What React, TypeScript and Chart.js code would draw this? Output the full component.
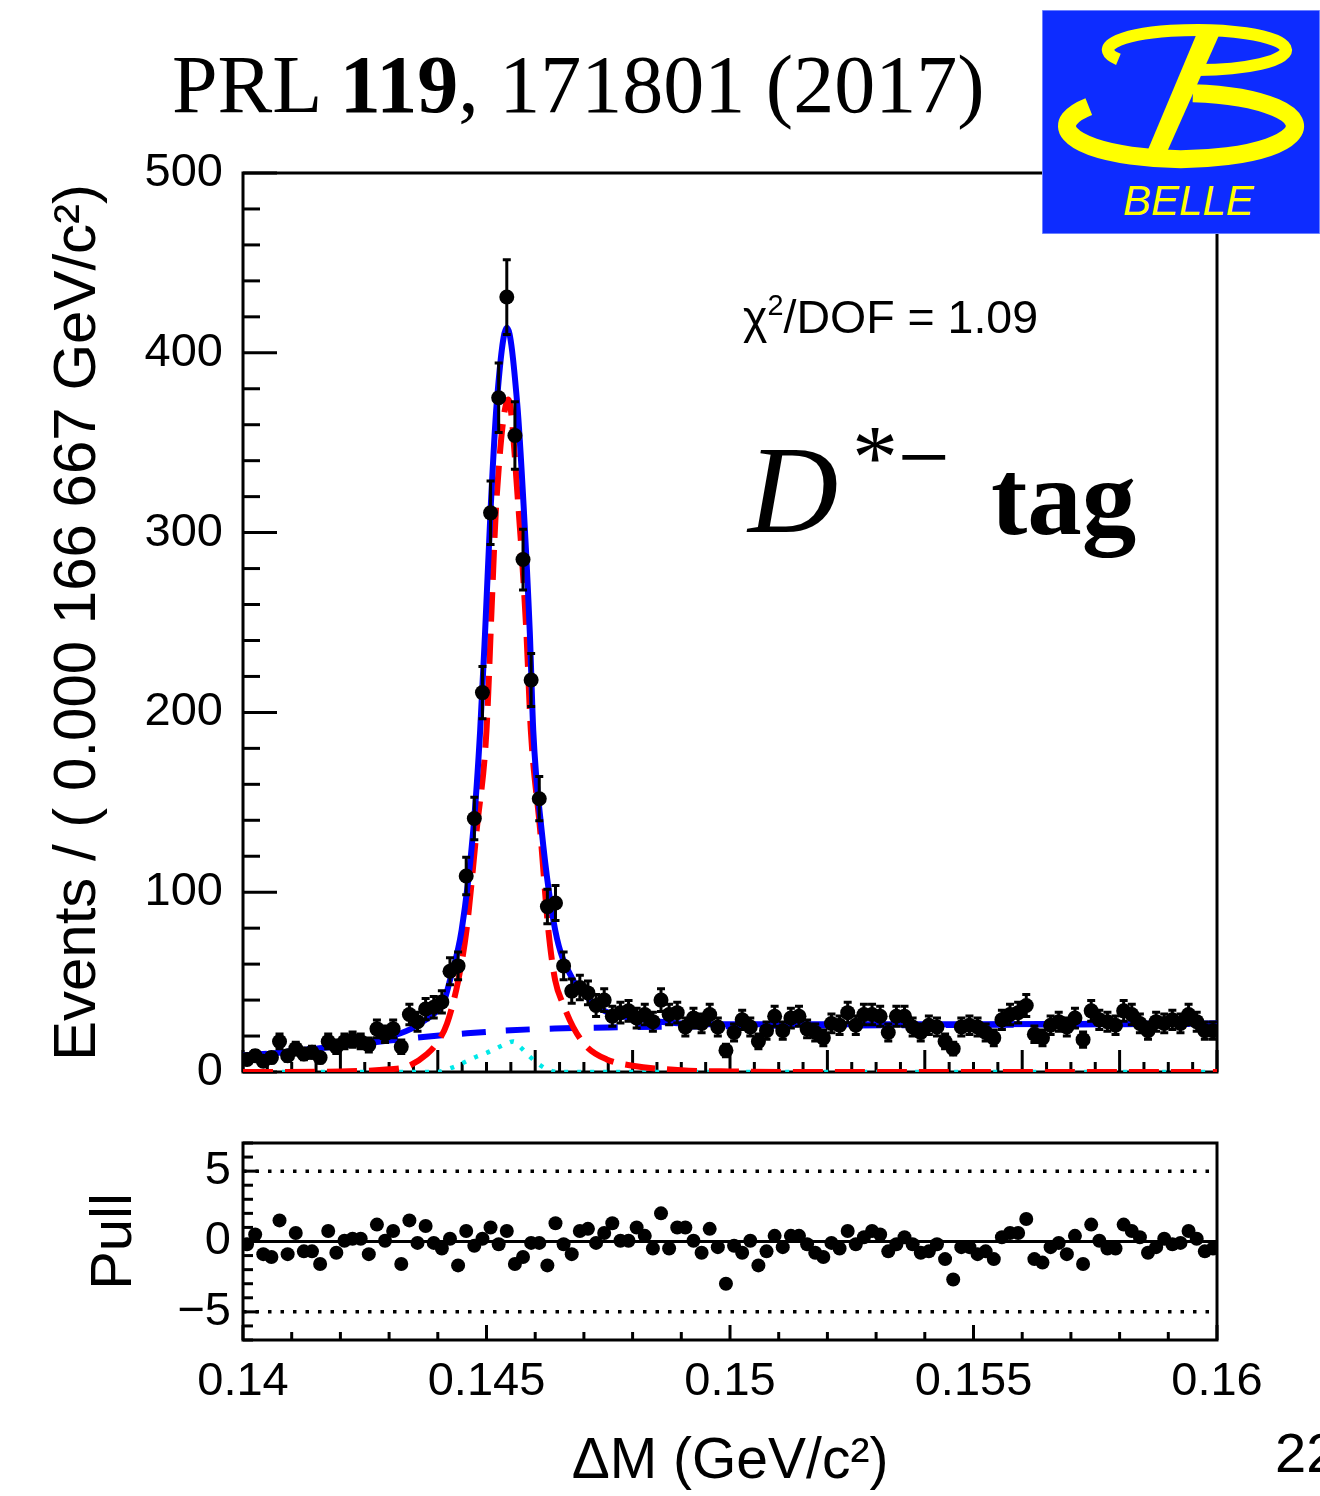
import React, { useEffect, useRef } from "react";
import { Chart, registerables } from "chart.js";

Chart.register(...registerables);

// ---------- binning ----------
const X_MIN = 0.14;
const X_MAX = 0.16;
const N_BINS = 120;
const BIN_WIDTH = (X_MAX - X_MIN) / N_BINS;

// ---------- data (events per bin) ----------
const eventCounts = [
  7, 9, 6, 8, 17, 9, 13, 10, 11, 8,
  17, 14, 17, 18, 17, 15, 24, 21, 24, 14,
  32, 28, 35, 36, 39, 56, 59, 109, 141, 211,
  311, 375, 431, 354, 285, 218, 152, 92, 94, 59,
  45, 47, 44, 37, 40, 31, 33, 34, 30, 32,
  28, 40, 32, 33, 25, 30, 27, 32, 25, 12,
  22, 29, 25, 17, 23, 31, 23, 30, 31, 24,
  22, 19, 27, 26, 33, 26, 32, 32, 31, 22,
  31, 31, 25, 22, 26, 25, 17, 13, 25, 26,
  25, 22, 19, 29, 32, 33, 37, 21, 19, 26,
  28, 25, 30, 18, 34, 29, 28, 26, 34, 32,
  27, 23, 28, 27, 29, 27, 32, 28, 23, 23,
];

// ---------- pulls ----------
const pullValues = [
  -0.2, 0.5, -0.9, -1.1, 1.5, -0.9, 0.6, -0.7, -0.7, -1.6,
  0.75, -0.8, 0.05, 0.2, 0.2, -0.9, 1.2, 0.05, 0.75, -1.6,
  1.5, -0.1, 1.1, -0.1, -0.5, 0.2, -1.7, 0.75, -0.3, 0.2,
  1.0, -0.2, 0.75, -1.6, -1.1, -0.1, -0.1, -1.7, 1.3, -0.2,
  -0.9, 0.75, 0.9, -0.1, 0.6, 1.3, 0.05, 0.05, 1.0, 0.4,
  -0.5, 2.0, -0.5, 1.0, 1.0, 0.05, -0.8, 0.9, -0.4, -3.0,
  -0.3, -0.8, 0.05, -1.7, -0.7, 0.4, -0.4, 0.4, 0.4, -0.2,
  -0.8, -1.1, -0.1, -0.5, 0.75, -0.2, 0.3, 0.75, 0.5, -0.7,
  -0.2, 0.3, -0.2, -0.8, -0.7, -0.2, -1.25, -2.7, -0.4, -0.4,
  -0.9, -0.7, -1.25, 0.3, 0.6, 0.6, 1.6, -1.25, -1.5, -0.4,
  -0.1, -0.9, 0.4, -1.6, 1.2, 0.05, -0.5, -0.5, 1.2, 0.75,
  0.3, -0.8, -0.4, 0.2, -0.2, -0.1, 0.75, 0.2, -0.7, -0.5,
];

// ---------- fit curves, [ΔM, events] ----------
const totalFit: [number, number][] = [
  [0.14, 9], [0.1405, 10], [0.141, 11.5], [0.1415, 13], [0.142, 14.5], [0.1425, 16.5],
  [0.143, 19.5], [0.14345, 24], [0.14375, 29], [0.14395, 33], [0.14411, 38], [0.14425, 51],
  [0.14449, 79], [0.14473, 135], [0.14487, 190], [0.14497, 244], [0.14509, 316], [0.14521, 372],
  [0.14542, 414], [0.14563, 372], [0.14576, 316], [0.14589, 244], [0.14596, 190], [0.14613, 135],
  [0.14641, 79], [0.14678, 51], [0.14705, 42], [0.14742, 34], [0.148, 30], [0.149, 27],
  [0.15, 26.5], [0.155, 26.5], [0.16, 27],
];
const signalFit: [number, number][] = [
  [0.14, 0], [0.142, 0.3], [0.143, 1.5], [0.14337, 3], [0.14378, 10], [0.14398, 16],
  [0.14419, 27], [0.14442, 51], [0.14459, 79], [0.1448, 135], [0.145, 190], [0.14511, 261],
  [0.1452, 316], [0.14545, 374], [0.14565, 316], [0.14582, 244], [0.14591, 190], [0.1461, 135],
  [0.14627, 79], [0.14641, 51], [0.14657, 38], [0.14678, 25], [0.14706, 14], [0.14747, 7],
  [0.148, 3.5], [0.149, 1], [0.15, 0.3], [0.152, 0], [0.16, 0],
];
const backgroundFit: [number, number][] = [
  [0.14, 9], [0.141, 11.5], [0.142, 14.5], [0.143, 17.5], [0.1437, 19.5], [0.1446, 21.5],
  [0.1455, 23.2], [0.1464, 24.2], [0.1475, 24.8], [0.15, 25.5], [0.155, 26.2], [0.16, 26.8],
];
const peakingFit: [number, number][] = [
  [0.14, 0], [0.144, 0], [0.14419, 1.5], [0.14439, 3.5], [0.14459, 6], [0.14479, 8.5],
  [0.14499, 10.5], [0.14519, 13], [0.14539, 15.5], [0.14555, 17], [0.14569, 14], [0.14589, 8.5],
  [0.14609, 4], [0.14629, 1], [0.1465, 0], [0.16, 0],
];

// ---------- ticks ----------
const mainYTicks = [0, 100, 200, 300, 400, 500];
const pullYTicks = [-5, 0, 5];
const xTickValues = [0.14, 0.145, 0.15, 0.155, 0.16];
const xTickLabels = ["0.14", "0.145", "0.15", "0.155", "0.16"];
const pullBandLevels = [5, -5];
const pullZeroLevel = 0;

const binCenters = eventCounts.map((_, i) => X_MIN + (i + 0.5) * BIN_WIDTH);

const SANS = '"Liberation Sans", Arial, Helvetica, sans-serif';
const SERIF = '"Liberation Serif", "Times New Roman", serif';

type TickSpec = { minor: number; major: number; minorLen: number; majorLen: number };

function makeFramePlugin(id: string, xt: TickSpec, yt: TickSpec, lw: number) {
  return {
    id,
    beforeDatasetsDraw(chart: any) {
      const { ctx, chartArea: a, scales } = chart;
      ctx.save();
      ctx.strokeStyle = "#000";
      ctx.lineWidth = lw;
      const drawTicks = (scale: any, spec: TickSpec, horizontal: boolean) => {
        const n = Math.round((scale.max - scale.min) / spec.minor);
        for (let k = 0; k <= n; k++) {
          const v = scale.min + k * spec.minor;
          const r = v / spec.major;
          const isMajor = Math.abs(r - Math.round(r)) < 1e-6;
          const len = isMajor ? spec.majorLen : spec.minorLen;
          const p = scale.getPixelForValue(v);
          ctx.beginPath();
          if (horizontal) {
            ctx.moveTo(p, a.bottom);
            ctx.lineTo(p, a.bottom - len);
          } else {
            ctx.moveTo(a.left, p);
            ctx.lineTo(a.left + len, p);
          }
          ctx.stroke();
        }
      };
      drawTicks(scales.x, xt, true);
      drawTicks(scales.y, yt, false);
      ctx.strokeRect(a.left, a.top, a.right - a.left, a.bottom - a.top);
      ctx.restore();
    },
  };
}

const errorBarPlugin = {
  id: "errorBars",
  afterDatasetsDraw(chart: any) {
    const { ctx, scales } = chart;
    const xs = scales.x;
    const ys = scales.y;
    ctx.save();
    ctx.strokeStyle = "#000";
    ctx.lineWidth = 3;
    eventCounts.forEach((n, i) => {
      const cx = xs.getPixelForValue(binCenters[i]);
      const e = Math.sqrt(n);
      const top = ys.getPixelForValue(n + e);
      const bot = ys.getPixelForValue(n - e);
      ctx.beginPath();
      ctx.moveTo(cx, top);
      ctx.lineTo(cx, bot);
      ctx.moveTo(cx - 4, top);
      ctx.lineTo(cx + 4, top);
      ctx.moveTo(cx - 4, bot);
      ctx.lineTo(cx + 4, bot);
      ctx.stroke();
    });
    ctx.restore();
  },
};

const curve = (pts: [number, number][]) => pts.map(([x, y]) => ({ x, y }));

export default function App() {
  const mainRef = useRef<HTMLCanvasElement | null>(null);
  const pullRef = useRef<HTMLCanvasElement | null>(null);

  useEffect(() => {
    if (!mainRef.current || !pullRef.current) return;

    const lineBase = {
      type: "line" as const,
      pointRadius: 0,
      pointHoverRadius: 0,
      fill: false,
      cubicInterpolationMode: "monotone" as const,
    };

    const main = new Chart(mainRef.current, {
      type: "line",
      data: {
        datasets: [
          {
            label: "Data",
            data: eventCounts.map((v, i) => ({ x: binCenters[i], y: v })),
            showLine: false,
            pointRadius: 7.5,
            pointHoverRadius: 7.5,
            pointBackgroundColor: "#000",
            pointBorderColor: "#000",
            pointBorderWidth: 0,
            order: 0,
          },
          { ...lineBase, label: "Total", data: curve(totalFit), borderColor: "#0000ff", borderWidth: 6, order: 1 },
          { ...lineBase, label: "Signal", data: curve(signalFit), borderColor: "#ff0000", borderWidth: 6, borderDash: [30, 12], order: 2 },
          { ...lineBase, label: "Background", data: curve(backgroundFit), borderColor: "#0000ff", borderWidth: 6, borderDash: [24, 20], order: 3 },
          { ...lineBase, label: "Peaking", data: curve(peakingFit), borderColor: "#00e8e8", borderWidth: 4.5, borderDash: [4, 9], order: 4 },
        ] as any,
      },
      options: {
        animation: false,
        responsive: false,
        maintainAspectRatio: false,
        events: [],
        layout: { padding: { left: 0, top: 173, right: 103, bottom: 88 } },
        plugins: { legend: { display: false }, tooltip: { enabled: false } },
        scales: {
          x: { type: "linear", min: X_MIN, max: X_MAX, display: false },
          y: {
            type: "linear",
            min: 0,
            max: 500,
            afterFit: (s: any) => { s.width = 243; },
            afterBuildTicks: (s: any) => { s.ticks = mainYTicks.map((v) => ({ value: v })); },
            grid: { display: false, drawTicks: false },
            border: { display: false },
            ticks: { color: "#000", font: { family: SANS, size: 47 }, padding: 20 },
            title: {
              display: true,
              text: "Events / ( 0.000 166 667 GeV/c²)",
              color: "#000",
              font: { family: SANS, size: 60 },
              padding: { top: 42, bottom: 0 },
            },
          },
        },
      } as any,
      plugins: [
        makeFramePlugin("mainFrame",
          { minor: 0.0005, major: 0.002, minorLen: 10, majorLen: 22 },
          { minor: 20, major: 100, minorLen: 17, majorLen: 34 }, 3),
        errorBarPlugin,
      ],
    });

    const flat = (level: number) => [{ x: X_MIN, y: level }, { x: X_MAX, y: level }];

    const pull = new Chart(pullRef.current, {
      type: "line",
      data: {
        datasets: [
          {
            label: "Pull",
            data: pullValues.map((v, i) => ({ x: binCenters[i], y: v })),
            showLine: false,
            pointRadius: 7,
            pointHoverRadius: 7,
            pointBackgroundColor: "#000",
            pointBorderColor: "#000",
            pointBorderWidth: 0,
            order: 0,
          },
          { type: "line", label: "zero", data: flat(pullZeroLevel), borderColor: "#000", borderWidth: 3, pointRadius: 0, order: 1 },
          ...pullBandLevels.map((lv, k) => ({
            type: "line", label: "band" + k, data: flat(lv), borderColor: "#000", borderWidth: 3.5,
            borderDash: [3.5, 9], pointRadius: 0, order: 2,
          })),
        ] as any,
      },
      options: {
        animation: false,
        responsive: false,
        maintainAspectRatio: false,
        events: [],
        layout: { padding: { left: 0, top: 43, right: 103, bottom: 0 } },
        plugins: { legend: { display: false }, tooltip: { enabled: false } },
        scales: {
          x: {
            type: "linear",
            min: X_MIN,
            max: X_MAX,
            afterFit: (s: any) => { s.height = 156; },
            afterBuildTicks: (s: any) => { s.ticks = xTickValues.map((v) => ({ value: v })); },
            grid: { display: false, drawTicks: false },
            border: { display: false },
            ticks: {
              color: "#000",
              font: { family: SANS, size: 47 },
              padding: 14,
              maxRotation: 0,
              autoSkip: false,
              callback: (v: any) => {
                const idx = xTickValues.findIndex((t) => Math.abs(t - v) < 1e-9);
                return idx >= 0 ? xTickLabels[idx] : "";
              },
            },
            title: {
              display: true,
              text: "ΔM (GeV/c²)",
              color: "#000",
              font: { family: SANS, size: 57 },
              padding: { top: 0, bottom: 0 },
            },
          },
          y: {
            type: "linear",
            min: -7,
            max: 7,
            afterFit: (s: any) => { s.width = 243; },
            afterBuildTicks: (s: any) => { s.ticks = pullYTicks.map((v) => ({ value: v })); },
            grid: { display: false, drawTicks: false },
            border: { display: false },
            ticks: {
              color: "#000",
              font: { family: SANS, size: 47 },
              padding: 12,
              callback: (v: any) => (v < 0 ? "\u2212" + Math.abs(v) : String(v)),
            },
            title: {
              display: true,
              text: "Pull",
              color: "#000",
              font: { family: SANS, size: 58 },
              padding: { top: 80, bottom: 0 },
            },
          },
        },
      } as any,
      plugins: [
        makeFramePlugin("pullFrame",
          { minor: 0.001, major: 0.005, minorLen: 8, majorLen: 15 },
          { minor: 1, major: 5, minorLen: 10, majorLen: 15 }, 3),
      ],
    });

    return () => {
      main.destroy();
      pull.destroy();
    };
  }, []);

  const abs = (left: number, top: number, font: string, extra: any = {}) => ({
    position: "absolute" as const,
    left,
    top,
    font,
    whiteSpace: "nowrap" as const,
    color: "#000",
    ...extra,
  });

  return (
    <div style={{ position: "absolute", left: 0, top: 0, width: 1320, height: 1496, overflow: "hidden", background: "#fff" }}>
      <canvas ref={mainRef} width={1320} height={1160} style={{ position: "absolute", left: 0, top: 0, display: "block" }} />
      <canvas ref={pullRef} width={1320} height={396} style={{ position: "absolute", left: 0, top: 1100, display: "block" }} />

      <div style={abs(172, 44, `82px/82px ${SERIF}`)}>
        PRL <b>119</b>, 171801 (2017)
      </div>

      <div style={abs(743, 294, `46.5px/46.5px ${SANS}`)}>
        χ<span style={{ fontSize: "0.62em", position: "relative", top: "-0.62em" }}>2</span>/DOF = 1.09
      </div>

      <div style={abs(748, 428, `italic 125px/125px ${SERIF}`)}>D</div>
      <div style={abs(852, 411, `92px/92px ${SERIF}`)}>*−</div>
      <div style={abs(991, 443, `bold 109px/109px ${SERIF}`)}>tag</div>

      <div style={abs(1275, 1425, `56px/56px ${SANS}`)}>22</div>

      <svg style={{ position: "absolute", left: 1042, top: 10 }} width={278} height={224} viewBox="0 0 278 224">
        <rect x={0} y={0} width={278} height={224} fill="#0d2cff" stroke="#8a9cff" strokeWidth={1.5} />
        <path d="M 76.4 49.4 A 89 20 0 1 1 147.2 59.9" fill="none" stroke="#ffff00" strokeWidth={12} />
        <path d="M 46.8 96.6 A 114 33 0 1 0 150.9 83.2" fill="none" stroke="#ffff00" strokeWidth={18} />
        <polygon points="155,23 178,23 125,142 105,142" fill="#ffff00" />
        <text x={81} y={205} fill="#ffff00" fontFamily={SANS} fontStyle="italic" fontSize={42}>BELLE</text>
      </svg>
    </div>
  );
}
